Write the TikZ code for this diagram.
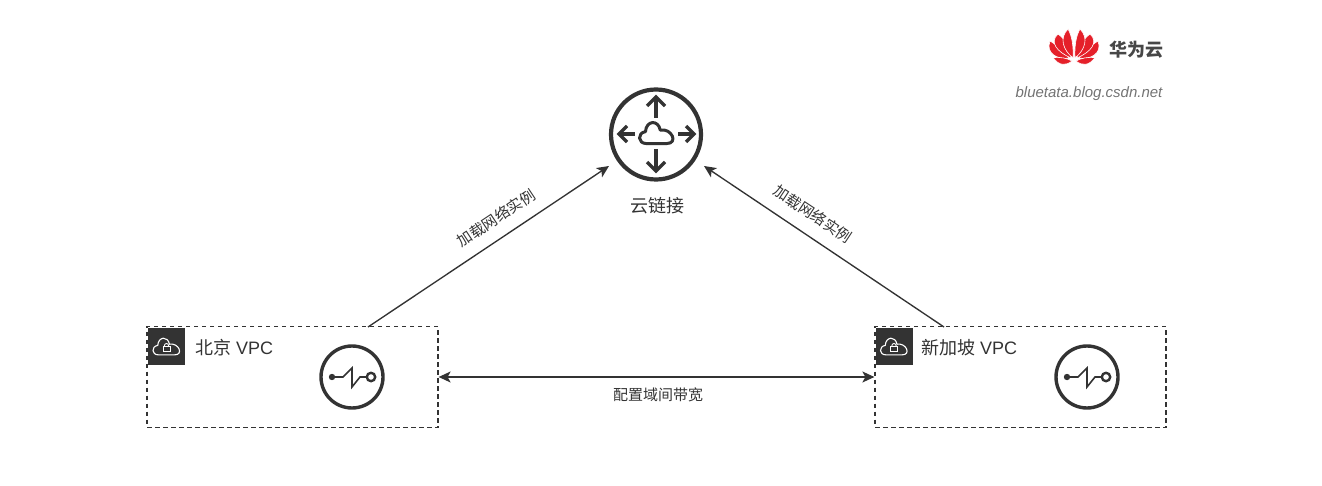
\documentclass[tikz,border=0pt]{standalone}
\usepackage{fontspec}
\setmainfont{Liberation Sans}
\newfontfamily\cjk{Noto Sans CJK SC}
\usetikzlibrary{
  arrows.meta,
  positioning
}
\definecolor{icongray}{HTML}{333333}
\definecolor{logored}{HTML}{E5202A}
\tikzset{
  x=1pt, y=-1pt,
  >={Stealth[length=12pt,width=11pt,inset=3pt]},
  link/.style={<->, line width=1.35pt, icongray},
  load/.style={->, line width=1.35pt, icongray},
  vpc/.style={draw=icongray, line width=1.25pt, dash pattern=on 4.5pt off 3.5pt,
    minimum width=291pt, minimum height=101pt, inner sep=0pt},
  tagbox/.style={fill=icongray, minimum size=37pt, inner sep=0pt},
  vpcname/.style={font=\fontsize{18}{18}\selectfont, text=icongray, anchor=west, inner sep=0pt},
  linelabel/.style={font=\fontsize{15}{15}\selectfont\cjk, text=icongray, inner sep=0pt},
  bigring/.style={circle, draw=icongray, line width=4.2pt, minimum size=90pt, inner sep=0pt},
  smallring/.style={circle, draw=icongray, line width=3.4pt, minimum size=62pt, inner sep=0pt},
  glyph/.style={draw=icongray, line width=3.5pt},
  leaf/.style={fill=logored, draw=white, line width=0.6pt},
  cloudicon/.pic={
    \draw[pic actions, line join=round]
      (-0.6,0.62) .. controls (-1.1,0.62) and (-1.15,0) .. (-0.65,-0.08)
      .. controls (-0.6,-0.75) and (0.1,-0.8) .. (0.22,-0.17)
      .. controls (0.9,-0.3) and (1.3,0.62) .. (0.6,0.62) -- cycle;
  }
}

\begin{document}
\begin{tikzpicture}
    \useasboundingbox (0,0) rectangle (1322,486);

    % cloud connect
    \node[bigring] (ljj) at (656,134.5) {};
    \node[font=\fontsize{18}{18}\selectfont\cjk, text=icongray, inner sep=0pt] (ljjname) at (657.5,206) {云链接};
    \pic[draw=icongray, line width=3pt, scale=17] at (656.5,133) {cloudicon};
    \draw[glyph] (656,118) -- (656,98);
    \draw[glyph] (647,106) -- (656,97) -- (665,106);
    \draw[glyph] (656,149) -- (656,171);
    \draw[glyph] (647,162) -- (656,171) -- (665,162);
    \draw[glyph] (635,134) -- (619,134);
    \draw[glyph] (627,126) -- (619,134) -- (627,142);
    \draw[glyph] (678,134) -- (694,134);
    \draw[glyph] (686,126) -- (694,134) -- (686,142);

    % beijing vpc
    \node[vpc] (bjvpc) at (292.5,377) {};
    \node[tagbox] (bjtag) at (166.5,346) {};
    \pic[draw=white, line width=1.1pt, scale=13.5] at (166.5,346.5) {cloudicon};
    \node[vpcname] (bjname) at (195,347.5) {{\cjk 北京} VPC};
    \node[smallring] (bjring) at (352,377) {};

    % singapore vpc
    \node[vpc] (sgvpc) at (1020.5,377) {};
    \node[tagbox] (sgtag) at (894,346) {};
    \pic[draw=white, line width=1.1pt, scale=13.5] at (894,346.5) {cloudicon};
    \node[vpcname] (sgname) at (921,347.5) {{\cjk 新加坡} VPC};
    \node[smallring] (sgring) at (1087,377) {};

    % lock and gateway glyphs
    \foreach \tx/\rx in {166.5/352, 894/1087} {
      \draw[white, line width=0.9pt] (\tx-2.2,346) arc[start angle=180, end angle=360, x radius=2.2, y radius=2.6];
      \draw[white, line width=0.9pt] (\tx-3.5,346) rectangle (\tx+3.5,351);
      \fill[icongray] (\rx-20,377) circle (3.2);
      \draw[icongray, line width=1.6pt] (\rx-20,377) -- (\rx-9,377) -- (\rx,368) -- (\rx,387) -- (\rx+8,377) -- (\rx+15,377);
      \draw[icongray, line width=2.4pt] (\rx+19,377) circle (4.2);
    }

    % connectors
    \coordinate (bjout) at (368,327);
    \coordinate (sgout) at (944,327);
    \coordinate (ljjleft) at (609,166);
    \coordinate (ljjright) at (704,166);
    \draw[load] (bjout) -- (ljjleft);
    \draw[load] (sgout) -- (ljjright);
    \draw[link] (bjvpc.east) -- (sgvpc.west);
    \node[linelabel, rotate=33.5] (loadleft) at (496,218) {加载网络实例};
    \node[linelabel, rotate=-33.5] (loadright) at (813,214) {加载网络实例};
    \node[linelabel] (bandwidth) at (658,395) {配置域间带宽};

    % logo
    \foreach \side in {1,-1} {
      \begin{scope}[shift={(1074,0)}, xscale=\side]
        \filldraw[leaf] (-5,58) .. controls (-15,60) and (-29,54) .. (-24,41) .. controls (-16,46) and (-9,52) .. cycle;
        \filldraw[leaf] (-3,58) .. controls (-17,52) and (-25,42) .. (-16,34) .. controls (-8,40) and (-4,48) .. cycle;
        \filldraw[leaf] (-1,58) .. controls (-11,50) and (-15,38) .. (-6,29) .. controls (-2,36) and (-0.4,46) .. cycle;
        \filldraw[leaf] (-2,61) .. controls (-8,66) and (-15,66) .. (-21,57.5) .. controls (-14,57) and (-7,58) .. cycle;
      \end{scope}
    }
    \node[font=\fontsize{18}{18}\selectfont\cjk\bfseries, text=icongray!90, inner sep=0pt] (hwname) at (1136,50) {华为云};
    \node[font=\fontsize{15}{15}\selectfont\itshape, text=gray!90!black, inner sep=0pt] (blog) at (1089,93.5) {bluetata.blog.csdn.net};
\end{tikzpicture}
\end{document}
